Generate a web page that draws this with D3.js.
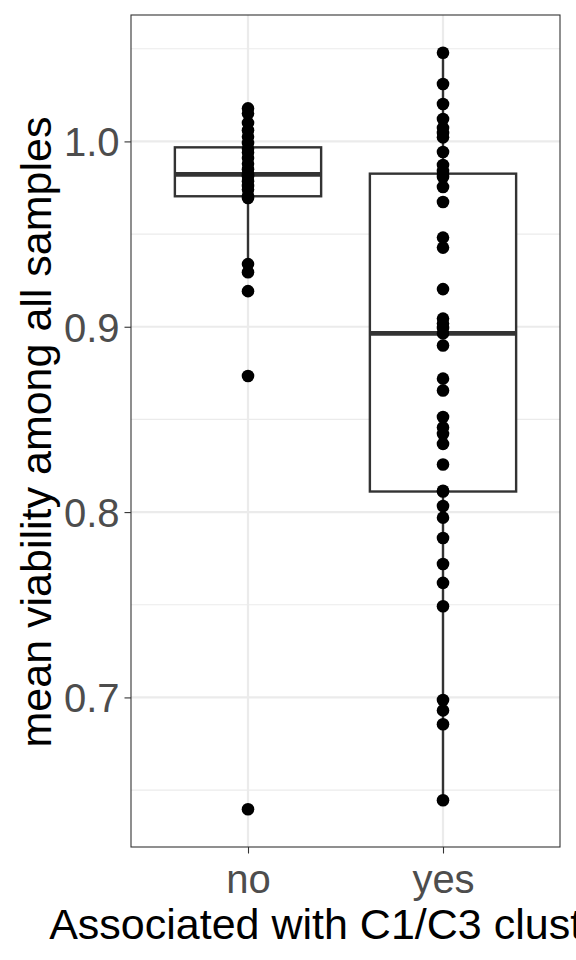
<!DOCTYPE html>
<html>
<head>
<meta charset="utf-8">
<script src="https://cdn.jsdelivr.net/npm/d3@7"></script>
<style>
  html, body { margin: 0; padding: 0; background: #fff; }
  svg { display: block; }
</style>
</head>
<body>
<script>
// ---- data ----
const categories = ["no", "yes"];
const valuesNo = [
  0.6397, 0.8734, 0.9192, 0.9294, 0.9338, 0.9695, 0.9707, 0.9740, 0.9760, 0.9785,
  0.9810, 0.9818, 0.9826, 0.9850, 0.9880, 0.9910, 0.9940, 0.9960, 0.9992, 1.0025,
  1.0060, 1.0100, 1.0150, 1.0178
];
const valuesYes = [
  0.6445, 0.6855, 0.6930, 0.6986, 0.7492, 0.7618, 0.7720, 0.7860, 0.7970, 0.8033,
  0.8111, 0.8115, 0.8257, 0.8368, 0.8422, 0.8457, 0.8513, 0.8656, 0.8720, 0.8899,
  0.8964, 0.8993, 0.9017, 0.9044, 0.9203, 0.9427, 0.9481, 0.9673, 0.9754, 0.9808,
  0.9826, 0.9840, 0.9873, 0.9943, 1.0022, 1.0045, 1.0073, 1.0121, 1.0202, 1.0310,
  1.0478
];
const yTicks = [0.7, 0.8, 0.9, 1.0];
const yMinorTicks = [0.65, 0.75, 0.85, 0.95, 1.05];
const xTitle = "Associated with C1/C3 clusters";
const yTitle = "mean viability among all samples";

// ---- layout ----
const W = 576, H = 960;
const panel = { left: 131, right: 560, top: 15, bottom: 847 };
const FONT = "'Liberation Sans', Arial, Helvetica, sans-serif";

const svg = d3.select("body").append("svg").attr("width", W).attr("height", H);

const groups = [
  { key: categories[0], values: valuesNo },
  { key: categories[1], values: valuesYes }
];

const allVals = valuesNo.concat(valuesYes);
const [mn, mx] = d3.extent(allVals);
const pad = (mx - mn) * 0.05;

const y = d3.scaleLinear().domain([mn - pad, mx + pad]).range([panel.bottom, panel.top]);
const x = d3.scalePoint().domain(categories).range([panel.left, panel.right]).padding(0.6);
const boxW = x.step() * 0.75;

// background
svg.append("rect").attr("x", panel.left).attr("y", panel.top)
  .attr("width", panel.right - panel.left).attr("height", panel.bottom - panel.top)
  .attr("fill", "#fff");

// grid
const grid = svg.append("g");
grid.selectAll(".ymin").data(yMinorTicks).enter().append("line")
  .attr("x1", panel.left).attr("x2", panel.right)
  .attr("y1", d => y(d)).attr("y2", d => y(d))
  .attr("stroke", "#EBEBEB").attr("stroke-width", 1.1);
grid.selectAll(".ymaj").data(yTicks).enter().append("line")
  .attr("x1", panel.left).attr("x2", panel.right)
  .attr("y1", d => y(d)).attr("y2", d => y(d))
  .attr("stroke", "#EBEBEB").attr("stroke-width", 2.2);
grid.selectAll(".xmaj").data(categories).enter().append("line")
  .attr("y1", panel.top).attr("y2", panel.bottom)
  .attr("x1", d => x(d)).attr("x2", d => x(d))
  .attr("stroke", "#EBEBEB").attr("stroke-width", 2.2);

// boxplots
const stroke = "#333333";
groups.forEach(g => {
  const s = g.values.slice().sort(d3.ascending);
  const q1 = d3.quantile(s, 0.25), med = d3.quantile(s, 0.5), q3 = d3.quantile(s, 0.75);
  const iqr = q3 - q1;
  const lo = d3.min(s.filter(v => v >= q1 - 1.5 * iqr));
  const hi = d3.max(s.filter(v => v <= q3 + 1.5 * iqr));
  const cx = x(g.key);
  const bg = svg.append("g");
  bg.append("line").attr("x1", cx).attr("x2", cx).attr("y1", y(q3)).attr("y2", y(hi))
    .attr("stroke", stroke).attr("stroke-width", 2.4);
  bg.append("line").attr("x1", cx).attr("x2", cx).attr("y1", y(q1)).attr("y2", y(lo))
    .attr("stroke", stroke).attr("stroke-width", 2.4);
  bg.append("rect").attr("x", cx - boxW / 2).attr("y", y(q3))
    .attr("width", boxW).attr("height", y(q1) - y(q3))
    .attr("fill", "#fff").attr("stroke", stroke).attr("stroke-width", 2.4);
  bg.append("line").attr("x1", cx - boxW / 2).attr("x2", cx + boxW / 2)
    .attr("y1", y(med)).attr("y2", y(med))
    .attr("stroke", stroke).attr("stroke-width", 4.6);
});

// points
groups.forEach(g => {
  svg.append("g").selectAll("circle").data(g.values).enter().append("circle")
    .attr("cx", x(g.key)).attr("cy", d => y(d)).attr("r", 6.3).attr("fill", "#000");
});

// panel border
svg.append("rect").attr("x", panel.left).attr("y", panel.top)
  .attr("width", panel.right - panel.left).attr("height", panel.bottom - panel.top)
  .attr("fill", "none").attr("stroke", stroke).attr("stroke-width", 1.1);

// axes
const yAxis = d3.axisLeft(y).tickValues(yTicks).tickFormat(d3.format(".1f"))
  .tickSize(6.5).tickPadding(5);
const gy = svg.append("g").attr("transform", `translate(${panel.left},0)`).call(yAxis);
gy.select(".domain").remove();
gy.selectAll(".tick line").attr("stroke", stroke).attr("stroke-width", 1.1);
gy.selectAll(".tick text").attr("fill", "#4D4D4D")
  .style("font-family", FONT).style("font-size", "40px")
  .attr("dy", "0.36em");

const xAxis = d3.axisBottom(x).tickSize(6.5).tickPadding(11);
const gx = svg.append("g").attr("transform", `translate(0,${panel.bottom})`).call(xAxis);
gx.select(".domain").remove();
gx.selectAll(".tick line").attr("stroke", stroke).attr("stroke-width", 1.1);
gx.selectAll(".tick text").attr("fill", "#4D4D4D")
  .style("font-family", FONT).style("font-size", "40px")
  .attr("dy", "0.71em");

// titles (the reference crops the x title at the right edge)
svg.append("text").attr("x", (panel.left + panel.right) / 2).attr("y", 939)
  .attr("text-anchor", "middle").attr("fill", "#000")
  .style("font-family", FONT).style("font-size", "43px")
  .text(xTitle);
svg.append("text")
  .attr("transform", `translate(51,${(panel.top + panel.bottom) / 2 + 1}) rotate(-90)`)
  .attr("text-anchor", "middle").attr("fill", "#000")
  .style("font-family", FONT).style("font-size", "43px")
  .text(yTitle);
</script>
</body>
</html>
